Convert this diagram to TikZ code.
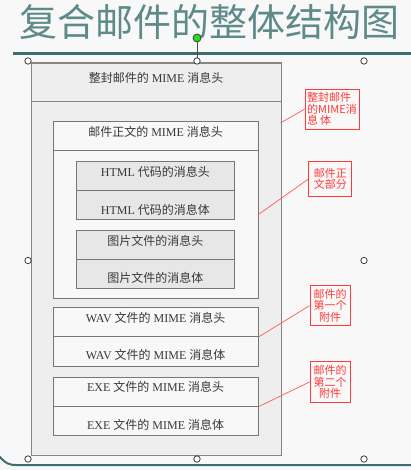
\documentclass[tikz,border=0pt]{standalone}
\usepackage{fontspec}
\setmainfont{Liberation Serif}
\newfontfamily\cjk{Noto Sans CJK SC}
\newcommand{\zh}[1]{{\cjk #1}}
\definecolor{bgc}{HTML}{F8F8F8}
\definecolor{rulec}{HTML}{3E6E6E}
\definecolor{titlec}{HTML}{5E8A8A}
\definecolor{outc}{HTML}{EEEEEE}
\definecolor{grayc}{HTML}{E7E7E7}
\definecolor{linec}{HTML}{777777}
\definecolor{redc}{HTML}{FF3A3A}
\definecolor{txtc}{HTML}{383838}
\definecolor{handc}{HTML}{22DD22}
\tikzset{
  sec/.style={draw=linec, line width=.9pt, anchor=north west, inner sep=0pt},
  txt/.style={font=\fontsize{12}{12}\selectfont, text=txtc, text height=9pt, text depth=3pt, inner sep=0pt},
  callout/.style={draw=redc, line width=1pt, inner sep=0pt, text=redc, align=center,
    font=\cjk\fontsize{11}{11.5}\selectfont},
  callline/.style={draw=redc!85, line width=.7pt},
  handle/.style={draw=black!75, line width=.8pt, fill=white}
}
\begin{document}
\begin{tikzpicture}[x=1pt,y=-1pt]

    % background
    \fill[bgc] (0,0) rectangle (411,470);
    \useasboundingbox (0,0) rectangle (411,470);

    % title and rules
    \node[font=\cjk\fontsize{38}{38}\selectfont, text=titlec, inner sep=0pt] (title) at (209,22) {复合邮件的整体结构图};
    \draw[rulec, line width=3pt] (13,54) -- (411,54);
    \draw[rulec, line width=2pt] (-1,456) .. controls (6,464) and (10,465) .. (16,465) -- (411,465);

    % whole mail
    \node[sec, fill=outc, line width=1.3pt, draw=black!48, minimum width=250pt, minimum height=392pt] (outer) at (30.5,62.5) {};
    \node[sec, fill=outc, line width=1.3pt, draw=black!48, minimum width=250pt, minimum height=38.5pt] (outerhead) at (30.5,62.5) {};

    % mail body part
    \node[sec, fill=bgc, minimum width=205pt, minimum height=176.7pt] (mailbody) at (52.7,121) {};
    \node[sec, fill=bgc, minimum width=205pt, minimum height=29pt] (mailhead) at (52.7,121) {};
    \node[sec, fill=grayc, minimum width=158.6pt, minimum height=29.3pt] (htmlhead) at (75.7,160.7) {};
    \node[sec, fill=grayc, minimum width=158.6pt, minimum height=29pt] (htmlbody) at (75.7,190) {};
    \node[sec, fill=grayc, minimum width=158.6pt, minimum height=29.3pt] (pichead) at (75.7,230) {};
    \node[sec, fill=grayc, minimum width=158.6pt, minimum height=28.4pt] (picbody) at (75.7,259.3) {};

    % attachments
    \node[sec, fill=bgc, minimum width=205pt, minimum height=28.7pt] (wavhead) at (52.7,307.3) {};
    \node[sec, fill=bgc, minimum width=205pt, minimum height=30pt] (wavbody) at (52.7,336) {};
    \node[sec, fill=bgc, minimum width=205pt, minimum height=29pt] (exehead) at (52.7,376.7) {};
    \node[sec, fill=bgc, minimum width=205pt, minimum height=29.3pt] (exebody) at (52.7,405.7) {};

    % texts
    \node[txt] (outerheadtxt) at ([yshift=2.5pt]outerhead.center) {\zh{整封邮件的} MIME \zh{消息头}};
    \node[txt] (mailheadtxt) at ([yshift=2.5pt]mailhead.center) {\zh{邮件正文的} MIME \zh{消息头}};
    \node[txt] (htmlheadtxt) at ([yshift=2pt]htmlhead.center) {HTML \zh{代码的消息头}};
    \node[txt] (htmlbodytxt) at ([yshift=-6.5pt]htmlbody.center) {HTML \zh{代码的消息体}};
    \node[txt] (picheadtxt) at ([yshift=3pt]pichead.center) {\zh{图片文件的消息头}};
    \node[txt] (picbodytxt) at ([yshift=-6pt]picbody.center) {\zh{图片文件的消息体}};
    \node[txt] (wavheadtxt) at ([yshift=2.5pt]wavhead.center) {WAV \zh{文件的} MIME \zh{消息头}};
    \node[txt] (wavbodytxt) at ([yshift=-5.5pt]wavbody.center) {WAV \zh{文件的} MIME \zh{消息体}};
    \node[txt] (exeheadtxt) at ([yshift=3pt]exehead.center) {EXE \zh{文件的} MIME \zh{消息头}};
    \node[txt] (exebodytxt) at ([yshift=-5.5pt]exebody.center) {EXE \zh{文件的} MIME \zh{消息体}};

    % red notes
    \node[callout, align=left, minimum width=54pt, minimum height=39.7pt] (c1) at (332,109.2) {整封邮件\\的MIME消\\息\,体};
    \node[callout, minimum width=42.7pt, minimum height=34pt] (c2) at (330.3,179) {邮件正\\文部分};
    \node[callout, minimum width=40pt, minimum height=40pt] (c3) at (330,305.7) {邮件的\\第一个\\附件};
    \node[callout, minimum width=40pt, minimum height=40.6pt] (c4) at (330,382) {邮件的\\第二个\\附件};

    \coordinate (p1) at (280.5,123);
    \coordinate (p2) at (257.7,215);
    \draw[callline] (p1) -- (c1.west);
    \draw[callline] (p2) -- (c2.west);
    \draw[callline] (wavhead.south east) -- (c3.west);
    \draw[callline] (exehead.south east) -- (c4.west);

    % selection handles
    \draw[black!70, line width=.8pt] (197,42) -- (197,58);
    \draw[draw=black!75, line width=.8pt, fill=handc] (197,38) circle[radius=4pt];
    \foreach \p in {(28,61),(197,61),(364,61),(28,260.5),(364,260.5),(28,459),(197,459),(364,459)}
        \draw[handle] \p circle[radius=3.2pt];

\end{tikzpicture}
\end{document}
